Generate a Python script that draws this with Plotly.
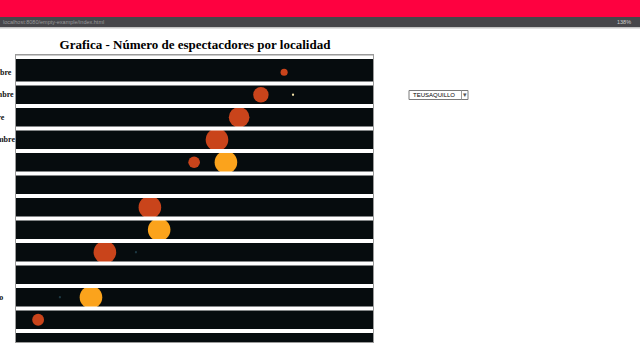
import plotly.graph_objects as go

# ---- data ----
categorias = ["Diciembre", "Noviembre", "Octubre", "Septiembre", "Agosto", "Julio",
              "Junio", "Mayo", "Abril", "Marzo", "Febrero", "Enero", ""]

serie_a_mes = ["Diciembre", "Noviembre", "Octubre", "Septiembre", "Agosto", "Junio", "Abril", "Enero"]
serie_a_x = [75.1, 68.6, 62.5, 56.3, 49.9, 37.5, 24.9, 6.2]
serie_a_espectadores = [120, 560, 1000, 1200, 320, 1200, 1200, 330]

serie_b_mes = ["Agosto", "Mayo", "Febrero"]
serie_b_x = [58.8, 40.1, 21.0]
serie_b_espectadores = [1200, 1200, 1200]

serie_c_mes = ["Noviembre"]
serie_c_x = [77.6]
serie_c_espectadores = [12]

serie_d_mes = ["Abril", "Febrero"]
serie_d_x = [33.6, 12.3]
serie_d_espectadores = [12, 12]

localidad = "TEUSAQUILLO"
titulo = "Grafica - Número de espectacdores por localidad"

# ---- layout geometry ----
W, H = 640, 360
L, R, T, B = 16, 373, 55, 342


def px2x(px):
    return (px - L) / (R - L)


def py2y(py):
    return (B - py) / (B - T)


SIZEREF = 4.7
fig = go.Figure()


def idx(names):
    return [categorias.index(n) for n in names]


for mes, xs, vals, color in [
    (serie_a_mes, serie_a_x, serie_a_espectadores, "#c9441b"),
    (serie_b_mes, serie_b_x, serie_b_espectadores, "#fba31c"),
    (serie_c_mes, serie_c_x, serie_c_espectadores, "#f3e3a8"),
    (serie_d_mes, serie_d_x, serie_d_espectadores, "#1e3a44"),
]:
    fig.add_trace(go.Scatter(
        x=xs, y=idx(mes), mode="markers",
        marker=dict(size=vals, sizemode="area", sizeref=SIZEREF, color=color,
                    opacity=1, line=dict(width=0)),
        showlegend=False, hoverinfo="skip",
    ))

shapes = []
gap = 2 / 22.5
for k in range(len(categorias) - 1):
    shapes.append(dict(type="rect", xref="paper", yref="y", x0=0, x1=1,
                       y0=k + 0.5 - gap, y1=k + 0.5 + gap,
                       fillcolor="white", line=dict(width=0), layer="above"))
# top white strip
shapes.append(dict(type="rect", xref="paper", yref="paper", x0=0, x1=1,
                   y0=py2y(59), y1=1, fillcolor="white", line=dict(width=0), layer="above"))
shapes.append(dict(type="line", xref="paper", yref="paper", x0=0, x1=1,
                   y0=1, y1=1, line=dict(color="#9a9a9a", width=1), layer="above"))

# browser chrome bars
shapes.append(dict(type="rect", xref="paper", yref="paper", x0=px2x(0), x1=px2x(W),
                   y0=py2y(17), y1=py2y(0), fillcolor="#fe0140", line=dict(width=0)))
shapes.append(dict(type="rect", xref="paper", yref="paper", x0=px2x(0), x1=px2x(W),
                   y0=py2y(27), y1=py2y(17), fillcolor="#46464a", line=dict(width=0)))
shapes.append(dict(type="rect", xref="paper", yref="paper", x0=px2x(0), x1=px2x(W),
                   y0=py2y(28.5), y1=py2y(27), fillcolor="#c4c4c4", line=dict(width=0)))

# dropdown box
shapes.append(dict(type="rect", xref="paper", yref="paper", x0=px2x(409), x1=px2x(468),
                   y0=py2y(99.5), y1=py2y(90.5), fillcolor="white",
                   line=dict(color="#7a7a7a", width=1)))
shapes.append(dict(type="line", xref="paper", yref="paper", x0=px2x(461.5), x1=px2x(461.5),
                   y0=py2y(99.5), y1=py2y(90.5), line=dict(color="#9a9a9a", width=1)))

annotations = []
for i, name in enumerate(categorias):
    if not name:
        continue
    annotations.append(dict(text="<b>" + name + "</b>", xref="paper", yref="y",
                            x=px2x(-26), y=i, xanchor="left", yanchor="middle",
                            showarrow=False,
                            font=dict(family="Liberation Serif", size=8, color="#111")))

annotations.append(dict(text=localidad, xref="paper", yref="paper", x=px2x(410.5), y=py2y(95),
                        xanchor="left", yanchor="middle", showarrow=False,
                        font=dict(family="Liberation Sans", size=6, color="black")))
annotations.append(dict(text="▾", xref="paper", yref="paper", x=px2x(464.8), y=py2y(95),
                        xanchor="center", yanchor="middle", showarrow=False,
                        font=dict(family="DejaVu Sans", size=7, color="#555")))
annotations.append(dict(text="localhost:8080/empty-example/index.html", xref="paper", yref="paper",
                        x=px2x(1), y=py2y(22), xanchor="left", yanchor="middle", showarrow=False,
                        font=dict(family="Liberation Sans", size=5.5, color="#9a9a9a")))
annotations.append(dict(text="138%", xref="paper", yref="paper",
                        x=px2x(633), y=py2y(22), xanchor="right", yanchor="middle", showarrow=False,
                        font=dict(family="Liberation Sans", size=5.5, color="#cfcfcf")))

fig.update_layout(
    width=W, height=H,
    margin=dict(l=L, r=W - R, t=T, b=H - B, pad=0),
    paper_bgcolor="white", plot_bgcolor="#060c0e",
    title=dict(text="<b>" + titulo + "</b>", x=px2x(195), xref="paper",
               y=1 - 44 / H, yanchor="middle", xanchor="center",
               font=dict(family="Liberation Serif", size=13, color="black")),
    xaxis=dict(range=[0, 100], showgrid=False, zeroline=False, showticklabels=False,
               showline=True, mirror=True, linecolor="#9a9a9a", linewidth=1, fixedrange=True),
    yaxis=dict(range=[(B - 72.25) / 22.5, (T - 72.25) / 22.5], showgrid=False, zeroline=False,
               showticklabels=False, showline=True, mirror=True, linecolor="#9a9a9a",
               linewidth=1, fixedrange=True),
    shapes=shapes, annotations=annotations,
)

fig.write_html("out.html", config={"displayModeBar": False})
